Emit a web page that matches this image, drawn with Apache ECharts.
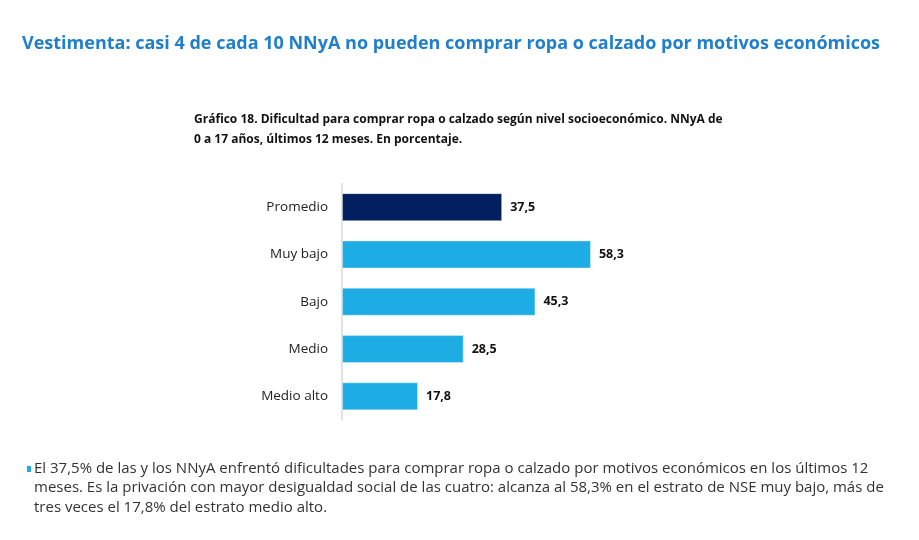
<!DOCTYPE html>
<html>
<head>
<meta charset="utf-8">
<script src="https://cdn.jsdelivr.net/npm/echarts@6/dist/echarts.min.js"></script>
<style>
html,body{margin:0;padding:0;background:#fff;}
#chart{width:919px;height:540px;}
</style>
</head>
<body>
<div id="chart"></div>
<script>
var categories = ['Promedio', 'Muy bajo', 'Bajo', 'Medio', 'Medio alto'];
var values = [37.5, 58.3, 45.3, 28.5, 17.8];
var barColors = ['#022060', '#1DADE4', '#1DADE4', '#1DADE4', '#1DADE4'];
var titleText = 'Vestimenta: casi 4 de cada 10 NNyA no pueden comprar ropa o calzado por motivos económicos';
var subtitleLines = ['Gráfico 18. Dificultad para comprar ropa o calzado según nivel socioeconómico. NNyA de', '0 a 17 años, últimos 12 meses. En porcentaje.'];
var noteLines = [
  'El 37,5% de las y los NNyA enfrentó dificultades para comprar ropa o calzado por motivos económicos en los últimos 12',
  'meses. Es la privación con mayor desigualdad social de las cuatro: alcanza al 58,3% en el estrato de NSE muy bajo, más de',
  'tres veces el 17,8% del estrato medio alto.'
];

var FONT = '"Open Sans", "Noto Sans", sans-serif';
var chart = echarts.init(document.getElementById('chart'));

var graphics = [];
// bullet
graphics.push({type:'rect', shape:{x:27, y:466, width:4, height:6}, style:{fill:'#1DADE4'}});
noteLines.forEach(function(line, i){
  graphics.push({
    type:'text', left:34, top:461 + i*19.5,
    style:{text:line, fill:'#333333', font:'15px ' + FONT}
  });
});

chart.setOption({
  animation:false,
  title:[
    {text:titleText, left:17, top:30, textStyle:{color:'#1F7FCB', fontSize:18, fontWeight:'bold', fontFamily:FONT}},
    {text:subtitleLines.join('\n'), left:189, top:105, textStyle:{color:'#111', fontSize:12, fontWeight:'bold', fontFamily:FONT, lineHeight:20}}
  ],
  grid:{left:342, top:183.5, width:427, height:236.5, containLabel:false},
  xAxis:{type:'value', min:0, max:100, show:false},
  yAxis:{
    type:'category', data:categories, inverse:true,
    axisLine:{show:true, lineStyle:{color:'#D9D9D9', width:1.5}},
    axisTick:{show:false},
    axisLabel:{color:'#222', fontSize:13.5, fontFamily:FONT, margin:14}
  },
  series:[{
    type:'bar', barWidth:28,
    data:values.map(function(v,i){return {value:v, itemStyle:{color:barColors[i]}};}),
    itemStyle:{borderColor:'rgba(255,255,255,0.35)', borderWidth:1},
    label:{show:true, position:'right', distance:8, color:'#111', fontWeight:'bold', fontSize:12.5, fontFamily:FONT,
      formatter:function(p){return p.value.toFixed(1).replace('.', ',');}}
  }],
  graphic:graphics
});
</script>
</body>
</html>
